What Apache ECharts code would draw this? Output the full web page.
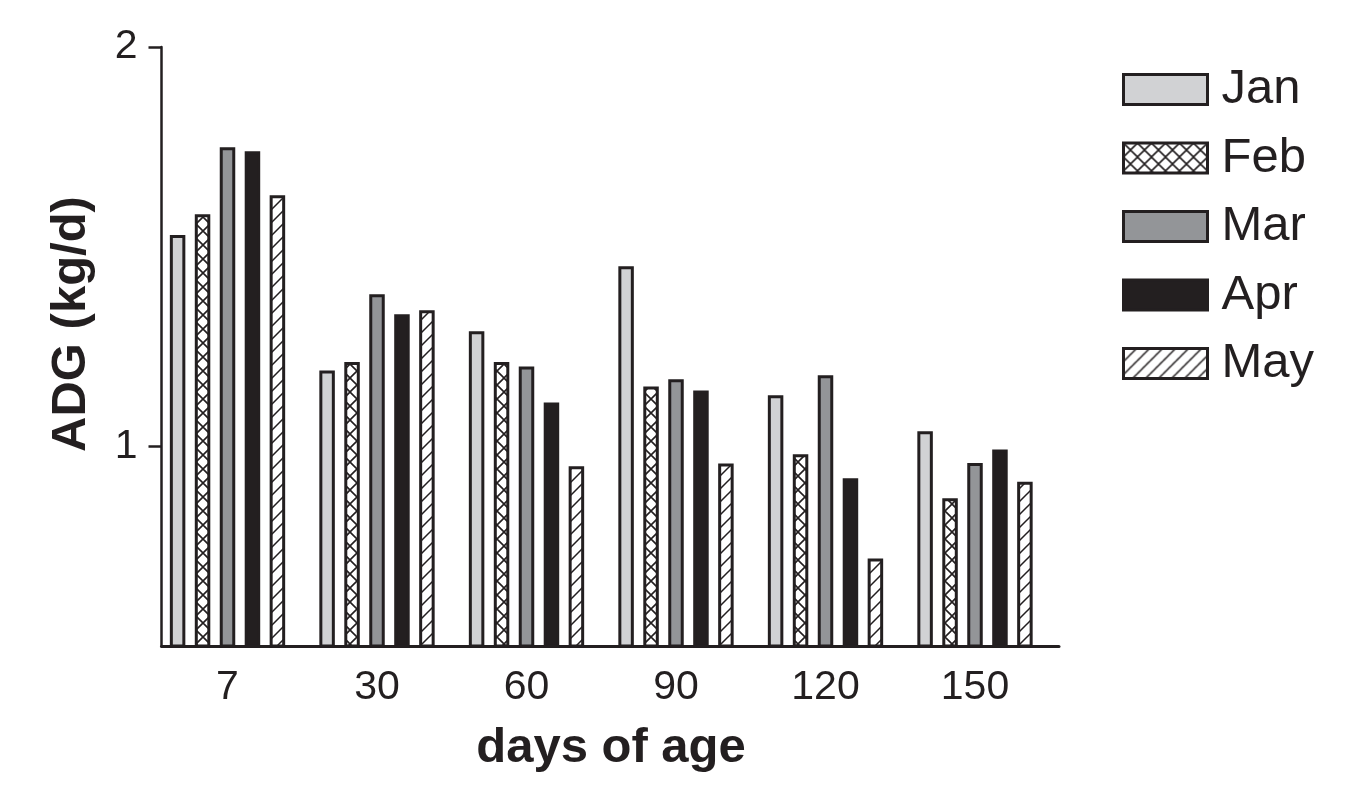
<!DOCTYPE html>
<html>
<head>
<meta charset="utf-8">
<script src="https://cdn.jsdelivr.net/npm/echarts@6/dist/echarts.min.js"></script>
<style>
html,body{margin:0;padding:0;background:#fff;}
#main{width:1363px;height:798px;}
</style>
</head>
<body>
<div id="main"></div>
<script>
const categories = ['7', '30', '60', '90', '120', '150'];
const seriesNames = ['Jan', 'Feb', 'Mar', 'Apr', 'May'];
const janValues = [1.529, 1.190, 1.288, 1.451, 1.128, 1.038];
const febValues = [1.581, 1.211, 1.211, 1.150, 0.980, 0.870];
const marValues = [1.749, 1.381, 1.200, 1.168, 1.178, 0.958];
const aprValues = [1.739, 1.331, 1.110, 1.140, 0.920, 0.992];
const mayValues = [1.629, 1.341, 0.950, 0.957, 0.719, 0.911];
const yTickValues = [1, 2];

const INK = '#231f20';
const FONT = 'Liberation Sans, Arial, sans-serif';

function crossPattern() {
  const s = 14;
  const c = document.createElement('canvas');
  c.width = s; c.height = s;
  const g = c.getContext('2d');
  g.fillStyle = '#fff'; g.fillRect(0, 0, s, s);
  g.strokeStyle = INK; g.lineWidth = 1.6;
  g.beginPath();
  g.moveTo(-2, -2); g.lineTo(s + 2, s + 2);
  g.moveTo(s + 2, -2); g.lineTo(-2, s + 2);
  g.stroke();
  return { image: c, repeat: 'repeat' };
}
function diagPattern() {
  const s = 13;
  const c = document.createElement('canvas');
  c.width = s; c.height = s;
  const g = c.getContext('2d');
  g.fillStyle = '#fff'; g.fillRect(0, 0, s, s);
  g.strokeStyle = INK; g.lineWidth = 1.5;
  g.beginPath();
  g.moveTo(-2, s + 2); g.lineTo(s + 2, -2);
  g.moveTo(-3, 3); g.lineTo(3, -3);
  g.moveTo(s - 3, s + 3); g.lineTo(s + 3, s - 3);
  g.stroke();
  return { image: c, repeat: 'repeat' };
}

const fills = ['#d1d2d4', crossPattern(), '#939598', INK, diagPattern()];
const dataSets = [janValues, febValues, marValues, aprValues, mayValues];

const chart = echarts.init(document.getElementById('main'), null, { renderer: 'canvas' });

const series = seriesNames.map((name, i) => ({
  name: name,
  type: 'bar',
  xAxisIndex: 0,
  yAxisIndex: 0,
  data: dataSets[i],
  barWidth: 15.5,
  barGap: '61%',
  clip: true,
  itemStyle: { color: fills[i], borderColor: INK, borderWidth: 3 },
  emphasis: { disabled: true }
}));

const option = {
  backgroundColor: '#fff',
  animation: false,
  textStyle: { fontFamily: FONT, color: INK },
  grid: [
    { left: 152.75, right: 313.25, top: 47, bottom: 152 },
    { left: 161.5, right: 304, top: 47, bottom: 152 }
  ],
  legend: {
    orient: 'vertical',
    left: 1117,
    top: 60,
    padding: 5,
    itemWidth: 84,
    itemHeight: 30,
    itemGap: 19.5,
    icon: 'rect',
    data: seriesNames,
    selectedMode: false,
    itemStyle: { borderWidth: 3, borderColor: INK },
    textStyle: { fontSize: 49, color: INK, padding: [0, 0, 0, 9], fontFamily: FONT }
  },
  xAxis: [
    {
      type: 'category', gridIndex: 0, data: categories,
      axisLine: { show: false }, axisTick: { show: false },
      axisLabel: { fontSize: 41, color: INK, margin: 21, fontFamily: FONT },
      splitLine: { show: false }
    },
    {
      type: 'value', gridIndex: 1, min: 0, max: 1,
      axisLine: { show: true, onZero: false, lineStyle: { color: INK, width: 3 } },
      axisTick: { show: false }, axisLabel: { show: false }, splitLine: { show: false }
    }
  ],
  yAxis: [
    { type: 'value', gridIndex: 0, min: 0.5, max: 2, show: false, splitLine: { show: false } },
    {
      type: 'value', gridIndex: 1, min: 0.5, max: 2,
      axisLine: { show: true, onZero: false, lineStyle: { color: INK, width: 2.5 } },
      axisTick: { show: true, length: 13, lineStyle: { color: INK, width: 2.5 }, customValues: yTickValues },
      axisLabel: { fontSize: 41, color: INK, margin: 24, customValues: yTickValues, fontFamily: FONT },
      splitLine: { show: false }
    }
  ],
  graphic: [
    {
      type: 'text', x: 611, y: 748,
      style: { text: 'days of age', font: 'bold 49px ' + FONT, fill: INK, align: 'center', verticalAlign: 'middle' }
    },
    {
      type: 'text', x: 71, y: 324, rotation: Math.PI / 2,
      style: { text: 'ADG (kg/d)', font: 'bold 49px ' + FONT, fill: INK, align: 'center', verticalAlign: 'middle' }
    }
  ],
  series: series
};
chart.setOption(option);
</script>
</body>
</html>
